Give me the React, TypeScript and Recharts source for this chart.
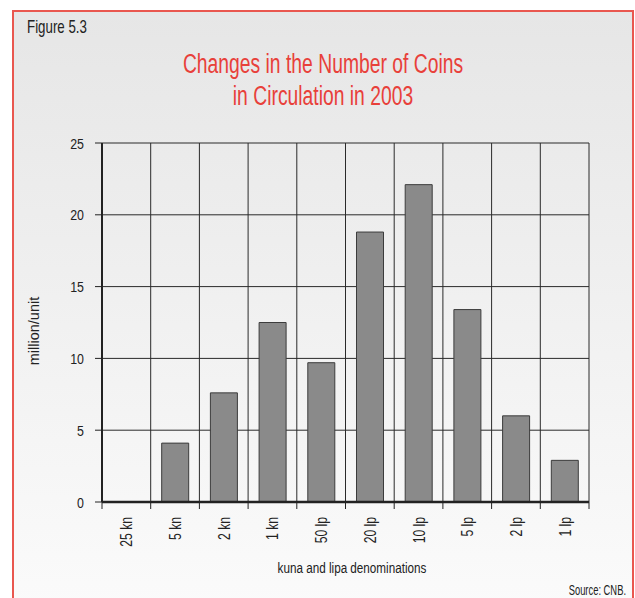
import React from 'react';
import { BarChart, Bar, XAxis, YAxis, CartesianGrid } from 'recharts';

const denominations = ['25 kn', '5 kn', '2 kn', '1 kn', '50 lp', '20 lp', '10 lp', '5 lp', '2 lp', '1 lp'];
const changeMillions = [0, 4.1, 7.6, 12.5, 9.7, 18.8, 22.1, 13.4, 6.0, 2.9];
const yTicks = [0, 5, 10, 15, 20, 25];

const data = denominations.map((name, i) => ({ name, value: changeMillions[i] }));

const FONT = "'Liberation Sans', Arial, sans-serif";
const INK = '#222';

// narrow text: the original uses a condensed face, so squeeze Liberation Sans horizontally
const Narrow = ({ x, y, size, sx, anchor = 'middle', rotate = 0, fill = INK, children }: any) => <text transform={`translate(${x}, ${y}) rotate(${rotate}) scale(${sx}, 1)`} textAnchor={anchor} fontSize={size} fontFamily={FONT} fill={fill}>
    {children}
  </text>;

// category label plus tick marks on the category edges (the original ticks sit between bars)
const CatTick = (props: any) => {
  const { x, y, payload, index, width, visibleTicksCount } = props;
  const band = width / visibleTicksCount;
  const top = y - 8;
  return <g>
      <line x1={x - band / 2} x2={x - band / 2} y1={top} y2={top + 7} stroke={INK} />
      {index === visibleTicksCount - 1 && <line x1={x + band / 2} x2={x + band / 2} y1={top} y2={top + 7} stroke={INK} />}
      <text transform={`translate(${x}, ${y + 7}) rotate(-90) scale(0.76, 1)`} x={0} y={6} textAnchor="end" fontSize={16} fontFamily={FONT} fill={INK}>
        {payload.value}
      </text>
    </g>;
};

const ValueTick = (props: any) => {
  const { x, y, payload } = props;
  return <text transform={`translate(${x}, ${y}) scale(0.8, 1)`} x={0} y={0} dy="0.36em" textAnchor="end" fontSize={15.5} fontFamily={FONT} fill={INK}>
      {payload.value}
    </text>;
};

const App = () => {
  return <div style={{ position: 'fixed', left: 0, top: 0, width: 635, height: 598, background: '#fff', overflow: 'hidden' }}>
      <div style={{
      position: 'absolute',
      left: 12,
      top: 10,
      width: 618,
      height: 600,
      borderTop: '2px solid #e9574f',
      borderLeft: '2px solid #e9574f',
      borderRight: '2px solid #e9574f',
      background: 'linear-gradient(#e6e6e6, #fbfbfb)'
    }} />
      <div style={{ position: 'absolute', left: 0, top: 0 }}>
        <BarChart width={635} height={598} data={data} barCategoryGap={11} margin={{ top: 143, right: 46, left: 12, bottom: 16 }}>
          <CartesianGrid stroke="#2a2a2a" strokeWidth={1} verticalCoordinatesGenerator={({ offset }: any) => denominations.map((_, i) => offset.left + offset.width * i / denominations.length).concat(offset.left + offset.width)} />
          <XAxis dataKey="name" height={80} tickSize={6} tickMargin={2} axisLine={{ stroke: INK, strokeWidth: 2.5 }} tickLine={false} interval={0} tick={<CatTick />} />
          <YAxis domain={[0, 25]} ticks={yTicks} width={90} tickSize={7} tickMargin={11} axisLine={{ stroke: INK, strokeWidth: 2 }} tickLine={{ stroke: INK }} tick={<ValueTick />} />
          <Bar dataKey="value" fill="#8a8a8a" stroke="#3c3c3c" strokeWidth={1} isAnimationActive={false} />
        </BarChart>
      </div>
      <svg width={635} height={598} style={{ position: 'absolute', left: 0, top: 0, pointerEvents: 'none' }}>
        <Narrow x={27} y={33} size={18} sx={0.74} anchor="start">Figure 5.3</Narrow>
        <Narrow x={323} y={73} size={28} sx={0.69} fill="#e8403a">Changes in the Number of Coins</Narrow>
        <Narrow x={323} y={105} size={28} sx={0.69} fill="#e8403a">in Circulation in 2003</Narrow>
        <Narrow x={352} y={573} size={15} sx={0.78}>kuna and lipa denominations</Narrow>
        <Narrow x={39} y={331} size={14.5} sx={1} rotate={-90}>million/unit</Narrow>
        <Narrow x={626} y={595} size={14} sx={0.67} anchor="end">Source: CNB.</Narrow>
      </svg>
    </div>;
};

export default App;
